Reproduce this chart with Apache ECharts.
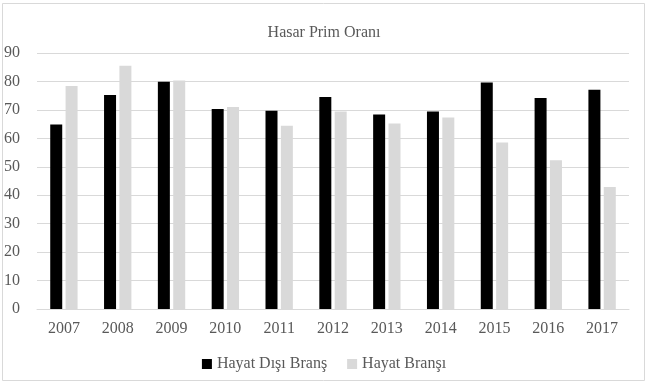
<!DOCTYPE html>
<html>
<head>
<meta charset="utf-8">
<script src="https://cdn.jsdelivr.net/npm/echarts@6/dist/echarts.min.js"></script>
<style>
html,body{margin:0;padding:0;background:#fff;}
#c{width:648px;height:383px;}
</style>
</head>
<body>
<div id="c"></div>
<script>
const categories = ['2007','2008','2009','2010','2011','2012','2013','2014','2015','2016','2017'];
const hayatDisi = [64.9, 75.2, 79.9, 70.3, 69.7, 74.5, 68.4, 69.4, 79.6, 74.2, 77.1];
const hayat = [78.4, 85.5, 80.3, 71.0, 64.4, 69.4, 65.2, 67.3, 58.5, 52.3, 42.9];
const seriesNames = ['Hayat Dışı Branş', 'Hayat Branşı'];

const font = 'Liberation Serif, Times New Roman, serif';
const chart = echarts.init(document.getElementById('c'));
chart.setOption({
  animation: false,
  backgroundColor: '#fff',
  textStyle: { fontFamily: font },
  graphic: [{
    type: 'rect',
    shape: { x: 2.5, y: 3.5, width: 642, height: 377 },
    style: { fill: 'none', stroke: '#d9d9d9', lineWidth: 1 },
    silent: true
  }],
  title: {
    text: 'Hasar Prim Oranı',
    left: 'center',
    top: 20,
    textStyle: { fontFamily: font, fontSize: 16, fontWeight: 'normal', color: '#595959' }
  },
  legend: {
    data: seriesNames,
    top: 351,
    left: 'center',
    icon: 'rect',
    itemWidth: 10,
    itemHeight: 10,
    itemGap: 20,
    textStyle: { fontFamily: font, fontSize: 16, color: '#595959' }
  },
  grid: { left: 37, right: 19, top: 53, bottom: 74, containLabel: false },
  xAxis: {
    type: 'category',
    data: categories,
    axisLine: { lineStyle: { color: '#d9d9d9', width: 1 } },
    axisTick: { show: false },
    axisLabel: { fontFamily: font, fontSize: 16, color: '#595959', margin: 12 }
  },
  yAxis: {
    type: 'value',
    min: 0,
    max: 90,
    interval: 10,
    axisLine: { show: false },
    axisTick: { show: false },
    splitLine: { lineStyle: { color: '#d9d9d9', width: 1 } },
    axisLabel: { fontFamily: font, fontSize: 16, color: '#595959', margin: 17 }
  },
  series: [
    {
      name: seriesNames[0],
      type: 'bar',
      data: hayatDisi,
      barWidth: 12,
      barGap: '28%',
      itemStyle: { color: '#000000' }
    },
    {
      name: seriesNames[1],
      type: 'bar',
      data: hayat,
      barWidth: 12,
      itemStyle: { color: '#d9d9d9' }
    }
  ]
});
</script>
</body>
</html>
